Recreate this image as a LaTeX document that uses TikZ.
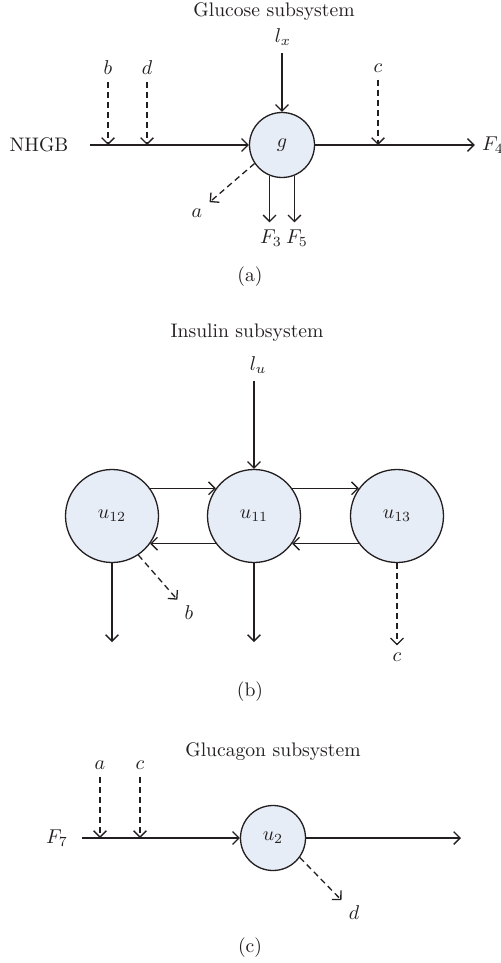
\documentclass[tikz,border=0pt]{standalone}
\usepackage{amsmath,amssymb}
\usetikzlibrary{arrows.meta,calc}
\definecolor{cellfill}{RGB}{230,237,246}
\definecolor{ink}{RGB}{35,31,32}
\tikzset{
  blob/.style={draw=ink, shape=circle, fill=cellfill, inner sep=0pt},
  flow/.style={draw=ink, -{Straight Barb[length=3.2pt,width=6.4pt]}},
  sig/.style={flow, dash pattern=on 3pt off 2pt},
}
\def\dropin(#1,#2,#3,#4,#5){
  \node (#1) at (#2,#3) {$#4$};
  \draw [sig] (#1) -- (#1 |- #5);
}

\begin{document}
\begin{tikzpicture}[x=0.5pt, y=-0.5pt, line width=0.65pt, font=\fontsize{9.8}{11}\selectfont, text=ink]
\useasboundingbox (0,0) rectangle (501,963);
% (a) glucose
\node (gtitle) at (274,12) {Glucose subsystem};
\node[blob, minimum size=32.5pt] (g) at (282,145) {$g$};
\node (lx) at (283,37) {$l_x$};
\draw [flow] (lx.south -| g) -- (g);
\node (nhgb) at (39,145) {NHGB};
\draw [flow] ([xshift=7pt]nhgb.east) -- (g);
\dropin(ba,108,68,b,g)
\dropin(da,147,68,d,g)
\dropin(ca,378,68,c,g)
\node (F4) at (493,145) {$F_4$};
\draw [flow] (g) -- (F4);
\node (aa) at (197,213) {$a$};
\draw [sig] (g.214) -- (aa);
\node (F3) at (271,238) {$F_3$};
\node (F5) at (297,238) {$F_5$};
\draw [flow] (g.248) -- (g.248 |- F3.north);
\draw [flow] (g.292) -- (g.292 |- F5.north);
\node (capa) at (250,277) {(a)};
% (b) insulin
\node (ititle) at (247,333) {Insulin subsystem};
\node[blob, minimum size=46.5pt] (u11) at (254,516) {$u_{11}$};
\node[blob, minimum size=46.5pt] (u12) at (112,516) {$u_{12}$};
\node[blob, minimum size=46.5pt] (u13) at (397,516) {$u_{13}$};
\node (lu) at (258,365) {$l_u$};
\draw [flow] (lu.south -| u11) -- (u11);
\draw [flow] (u12.36) -- (u11.144);
\draw [flow] (u11.36) -- (u13.144);
\draw [flow] (u11.216) -- (u12.324);
\draw [flow] (u13.216) -- (u11.324);
\coordinate (u12out) at (112,642);
\coordinate (u11out) at (254,642);
\draw [flow] (u12) -- (u12out);
\draw [flow] (u11) -- (u11out);
\node (cb) at (397,657) {$c$};
\draw [sig] (u13) -- (cb);
\node (bb) at (189,613) {$b$};
\draw [sig] (u12.-56) -- (bb);
\node (capb) at (250,692) {(b)};
% (c) glucagon
\node (ctitle) at (273,752) {Glucagon subsystem};
\node[blob, minimum size=32.5pt] (u2) at (273,838) {$u_2$};
\node (F7) at (57,838) {$F_7$};
\draw [flow] ([xshift=3.5pt]F7.east) -- (u2);
\dropin(ac,100,765,a,u2)
\dropin(cc,140,765,c,u2)
\coordinate (u2out) at (461,838);
\draw [flow] (u2) -- (u2out);
\node (dc) at (354,913) {$d$};
\draw [sig] (u2.-36) -- (dc);
\node (capc) at (250,948) {(c)};
\end{tikzpicture}
\end{document}
